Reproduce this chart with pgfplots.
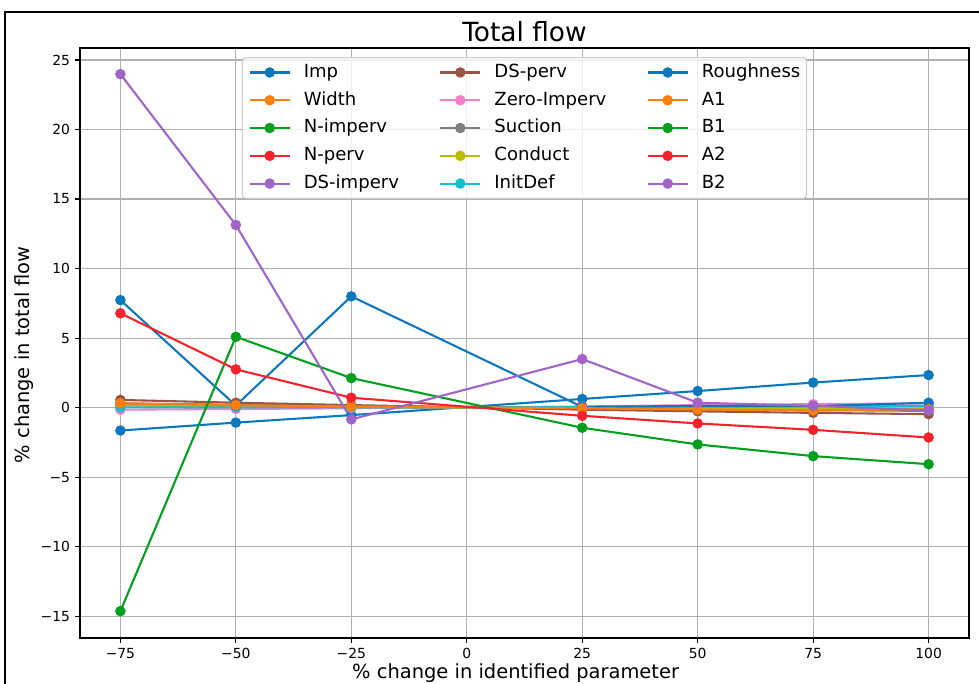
\documentclass[border=0pt]{standalone}
\usepackage{fontspec}
\setmainfont{DejaVu Sans}
\setsansfont{DejaVu Sans}
\usepackage{pgfplots}
\pgfplotsset{compat=1.18}
\definecolor{c1}{HTML}{0B78BE}
\definecolor{c2}{HTML}{FF7F0E}
\definecolor{c3}{HTML}{00A01E}
\definecolor{c4}{HTML}{F5222B}
\definecolor{c5}{HTML}{A064C8}
\definecolor{c6}{HTML}{9A5445}
\definecolor{c7}{HTML}{F57DCA}
\definecolor{c8}{HTML}{7F7F7F}
\definecolor{c9}{HTML}{BCBD00}
\definecolor{c10}{HTML}{10C0D0}
\definecolor{gridc}{HTML}{B0B0B0}
\definecolor{legc}{HTML}{CCCCCC}
\begin{document}
\begin{tikzpicture}
\begin{axis}[
  at={(0,0)}, anchor=south west,
  scale only axis, width=640.08pt, height=424.8pt,
  xmin=-83.75, xmax=108.75, ymin=-16.57, ymax=25.86,
  xtick={-75,-50,-25,0,25,50,75,100},
  xticklabels={−75,−50,−25,0,25,50,75,100},
  ytick={-15,-10,-5,0,5,10,15,20,25},
  yticklabels={−15,−10,−5,0,5,10,15,20,25},
  tick align=outside, tick pos=left, major tick length=3.5pt,
  tick style={black, line width=0.8pt},
  axis line style={line width=0.8pt},
  ticklabel style={font=\fontsize{10}{12}\selectfont, inner sep=0pt},
  xticklabel style={yshift=-3.5pt},
  yticklabel style={xshift=-3.5pt},
  grid=major, major grid style={line width=0.8pt, color=gridc},
  title={Total flow},
  title style={at={(axis description cs:0.5,1)}, anchor=base, yshift=-1pt, inner sep=0pt, font=\fontsize{19}{22.8}\selectfont},
  xlabel={\% change in identified parameter},
  xlabel style={at={(axis description cs:0.49,-0.04237)}, anchor=north, inner sep=0pt, font=\fontsize{14}{16.8}\selectfont},
  ylabel={\% change in total flow},
  ylabel style={at={(axis description cs:-0.0742,0.48)}, anchor=north, inner sep=0pt, font=\fontsize{14}{16.8}\selectfont},
  every axis plot/.append style={line width=1.5pt, mark=*, mark size=3pt, mark options={solid}},
  legend image code/.code={\draw[opacity=1, mark repeat=2, mark phase=2, #1] plot coordinates {(0pt,0pt) (14.4pt,0pt) (28.8pt,0pt)};},
  legend columns=3,
  legend cell align=left,
  legend style={at={(0.5,1)}, yshift=-6.5pt, anchor=north,
    draw=legc, line width=0.8pt, rounded corners=2.5pt,
    fill=white, fill opacity=0.8, draw opacity=1, text opacity=1,
    inner sep=4.5pt, row sep=7.55pt,
    font=\fontsize{13}{15.6}\selectfont,
    nodes={inner sep=0pt, text height=9.75pt, text depth=2.7pt},
    /tikz/every odd column/.append style={column sep=9.4pt},
    /tikz/every even column/.append style={column sep=29pt}},
]
% legend (row-major order of the 3-column legend)
\addlegendimage{c1, line width=1.5pt, mark=*, mark size=3pt}\addlegendentry{Imp}
\addlegendimage{c6, line width=1.5pt, mark=*, mark size=3pt}\addlegendentry{DS-perv}
\addlegendimage{c1, line width=1.5pt, mark=*, mark size=3pt}\addlegendentry{Roughness}
\addlegendimage{c2, line width=1.5pt, mark=*, mark size=3pt}\addlegendentry{Width}
\addlegendimage{c7, line width=1.5pt, mark=*, mark size=3pt}\addlegendentry{Zero-Imperv}
\addlegendimage{c2, line width=1.5pt, mark=*, mark size=3pt}\addlegendentry{A1}
\addlegendimage{c3, line width=1.5pt, mark=*, mark size=3pt}\addlegendentry{N-imperv}
\addlegendimage{c8, line width=1.5pt, mark=*, mark size=3pt}\addlegendentry{Suction}
\addlegendimage{c3, line width=1.5pt, mark=*, mark size=3pt}\addlegendentry{B1}
\addlegendimage{c4, line width=1.5pt, mark=*, mark size=3pt}\addlegendentry{N-perv}
\addlegendimage{c9, line width=1.5pt, mark=*, mark size=3pt}\addlegendentry{Conduct}
\addlegendimage{c4, line width=1.5pt, mark=*, mark size=3pt}\addlegendentry{A2}
\addlegendimage{c5, line width=1.5pt, mark=*, mark size=3pt}\addlegendentry{DS-imperv}
\addlegendimage{c10, line width=1.5pt, mark=*, mark size=3pt}\addlegendentry{InitDef}
\addlegendimage{c5, line width=1.5pt, mark=*, mark size=3pt}\addlegendentry{B2}
% Imp
\addplot[c1, forget plot] coordinates {(-75,-1.65) (-50,-1.08) (-25,-0.54) (25,0.62) (50,1.19) (75,1.80) (100,2.34)};
% Width
\addplot[c2, forget plot] coordinates {(-75,0.30) (-50,0.20) (-25,0.10) (25,-0.05) (50,-0.10) (75,-0.15) (100,-0.20)};
% N-imperv
\addplot[c3, forget plot] coordinates {(-75,0.28) (-50,0.16) (-25,0.08) (25,-0.04) (50,-0.12) (75,-0.18) (100,-0.12)};
% N-perv
\addplot[c4, forget plot] coordinates {(-75,0.28) (-50,0.16) (-25,0.08) (25,-0.04) (50,-0.12) (75,-0.18) (100,-0.12)};
% DS-imperv
\addplot[c5, forget plot] coordinates {(-75,0.28) (-50,0.16) (-25,0.08) (25,-0.04) (50,-0.12) (75,-0.18) (100,-0.12)};
% DS-perv
\addplot[c6, forget plot] coordinates {(-75,0.55) (-50,0.35) (-25,0.18) (25,-0.15) (50,-0.27) (75,-0.38) (100,-0.47)};
% Zero-Imperv
\addplot[c7, forget plot] coordinates {(-75,-0.15) (-50,-0.10) (-25,-0.05) (25,0.08) (50,0.18) (75,0.25) (100,0.30)};
% Suction
\addplot[c8, forget plot] coordinates {(-75,0.22) (-50,0.12) (-25,0.06) (25,-0.06) (50,-0.12) (75,-0.18) (100,-0.24)};
% Conduct
\addplot[c9, forget plot] coordinates {(-75,0.15) (-50,0.08) (-25,0.04) (25,-0.03) (50,-0.06) (75,-0.09) (100,-0.12)};
% InitDef
\addplot[c10, forget plot] coordinates {(-75,0.02) (-50,0.02) (-25,0.01) (25,0.04) (50,0.07) (75,0.10) (100,0.13)};
% Roughness
\addplot[c1, forget plot] coordinates {(-75,7.73) (-50,0.15) (-25,8.00) (25,0.05) (50,0.12) (75,0.10) (100,0.35)};
% A1
\addplot[c2, forget plot] coordinates {(-75,0.30) (-50,0.17) (-25,0.08) (25,-0.04) (50,-0.14) (75,-0.20) (100,-0.12)};
% B1
\addplot[c3, forget plot] coordinates {(-75,-14.64) (-50,5.09) (-25,2.12) (25,-1.45) (50,-2.65) (75,-3.49) (100,-4.07)};
% A2
\addplot[c4, forget plot] coordinates {(-75,6.78) (-50,2.75) (-25,0.71) (25,-0.59) (50,-1.14) (75,-1.60) (100,-2.15)};
% B2
\addplot[c5, forget plot] coordinates {(-75,23.98) (-50,13.13) (-25,-0.85) (25,3.49) (50,0.35) (75,0.13) (100,-0.20)};
\end{axis}
\draw[black, line width=1.1pt] (-54pt,-60pt) rectangle (690pt,450.72pt);
\pgfresetboundingbox
\useasboundingbox (-57.6pt,-33.12pt) rectangle (647.28pt,459.36pt);
\end{tikzpicture}
\end{document}
